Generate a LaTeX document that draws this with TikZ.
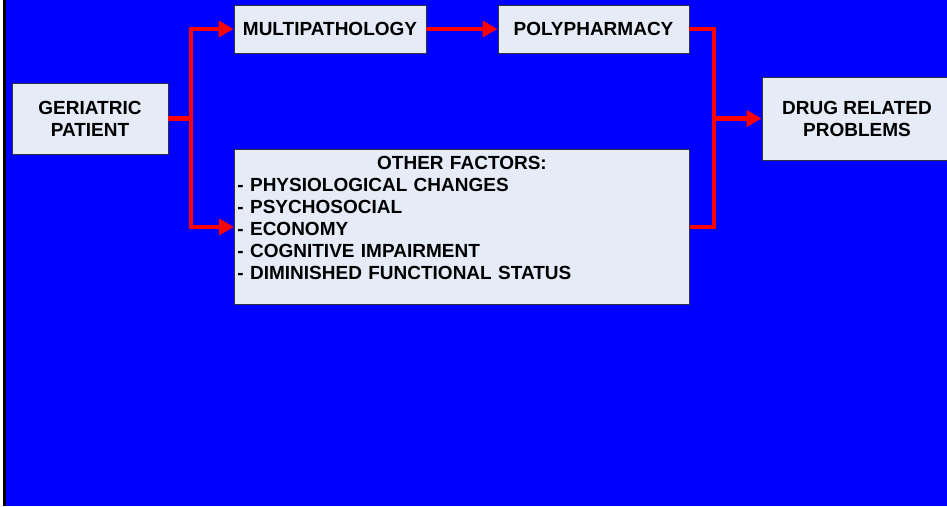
\documentclass[tikz,border=0pt]{standalone}
\usepackage{fontspec}
\setmainfont{Liberation Sans}
\usetikzlibrary{arrows.meta}
\definecolor{bgblue}{HTML}{0000FF}
\definecolor{boxfill}{HTML}{E6ECF7}
\definecolor{boxline}{HTML}{303040}
\definecolor{arrred}{HTML}{FF0000}
\tikzset{
  box/.style={draw=boxline, fill=boxfill, line width=0.9pt, inner sep=2pt,
    font=\fontsize{19}{22}\selectfont\bfseries, align=center},
  conn/.style={draw=arrred, line width=4.5pt, line join=miter},
  arr/.style={conn, -{Triangle[length=15pt,width=16pt]}},
}
\begin{document}
\begin{tikzpicture}[x=1pt,y=-1pt]
\useasboundingbox (0,0) rectangle (947,506);
\fill[bgblue] (0,0) rectangle (947,506);
\fill[white] (0,0) rectangle (2.5,506);
\fill[black] (2.5,0) rectangle (6,506);

\node[box, minimum width=156pt, minimum height=71pt] (gp) at (90,118.5) {GERIATRIC\\PATIENT};
\node[box, minimum width=192pt, minimum height=48pt] (multi) at (330,29) {MULTIPATHOLOGY};
\node[box, minimum width=191pt, minimum height=48pt] (poly) at (593.5,29) {POLYPHARMACY};
\node[box, minimum width=190pt, minimum height=83pt] (drp) at (857,118.5) {DRUG RELATED\\PROBLEMS};
\node[box, anchor=north west, inner xsep=3pt, text width=449pt, minimum height=155pt, align=left] (other) at (234,149)
  {{\centering OTHER FACTORS:\par}
   - PHYSIOLOGICAL CHANGES\\
   - PSYCHOSOCIAL\\
   - ECONOMY\\
   - COGNITIVE IMPAIRMENT\\
   - DIMINISHED FUNCTIONAL STATUS\par\nointerlineskip\noindent\rule{0pt}{18pt}};

\coordinate (jl) at (191,118.5);
\coordinate (jr) at (714,118.5);
\draw[conn] (gp.east) -- (jl);
\draw[arr] (jl) |- (multi.west);
\draw[arr] (jl) |- (other.west);
\draw[arr] (multi.east) -- (poly.west);
\draw[conn] (poly.east) -| (jr);
\draw[conn] (other.east) -| (jr);
\draw[arr] (jr) -- (drp.west);
\end{tikzpicture}
\end{document}
